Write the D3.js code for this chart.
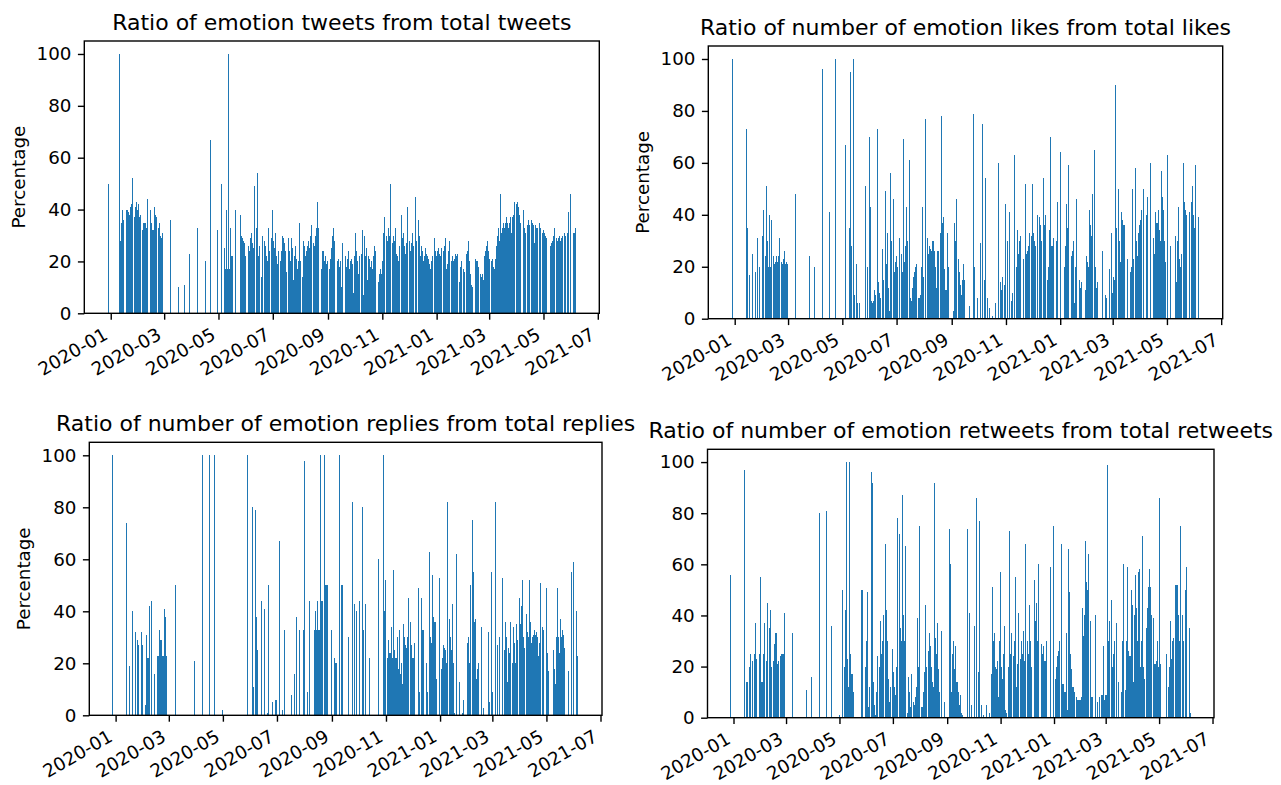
<!DOCTYPE html>
<html>
<head>
<meta charset="utf-8">
<script src="https://cdn.jsdelivr.net/npm/d3@7"></script>
<style>
  body { margin: 0; background: #fff; }
  svg { display: block; }
  text { font-family: "DejaVu Sans", sans-serif; fill: #000; }
</style>
</head>
<body>
<svg id="fig" width="1281" height="785"></svg>
<script>
// Daily series, one value per day from 2019-12-29 to 2021-06-06 (0 = no bar).
const firstDay = "2019-12-29";
const lastDay = "2021-06-06";

const tweetRatio = [
  50,0,0,0,0,0,0,0,0,0,
  0,0,0,100,28,35,40,36,34,35,
  40,40,40,39,38,41,42,40,52,38,
  37,41,43,40,42,37,38,37,36,32,
  35,35,35,33,44,36,32,38,40,35,
  32,32,41,38,37,35,30,33,35,30,
  29,31,0,0,0,0,0,0,0,0,
  36,0,0,0,0,0,0,0,0,10,
  0,0,0,0,0,0,11,0,0,0,
  0,0,23,0,0,0,0,0,0,0,
  0,33,0,0,0,0,0,0,0,20,
  0,0,0,0,0,67,0,0,0,0,
  0,0,0,32,0,0,0,50,0,0,
  0,25,17,40,17,100,17,17,33,22,
  22,0,0,40,0,0,0,0,0,38,
  30,29,28,27,22,34,34,13,26,24,
  29,31,27,25,21,49,30,33,54,22,
  26,0,14,25,30,28,28,26,22,20,
  33,24,13,29,27,40,28,25,31,22,
  19,24,20,18,20,24,30,29,27,24,
  16,18,22,29,24,20,29,25,13,22,
  19,26,21,17,20,35,20,0,14,13,
  28,26,22,24,26,28,25,30,34,19,
  23,27,26,30,33,43,33,33,9,0,
  17,24,24,20,22,19,20,18,0,17,
  21,25,30,33,28,24,23,22,20,21,
  18,20,10,27,10,19,19,22,18,21,
  24,17,20,21,16,19,8,22,31,24,
  20,15,22,19,21,23,32,7,30,22,
  25,13,19,22,21,18,20,17,22,26,
  24,21,19,7,12,15,17,15,20,31,
  29,37,34,30,28,33,30,50,0,27,
  25,30,28,33,23,22,20,26,30,38,
  35,29,31,26,23,27,41,29,25,28,
  24,27,31,26,0,45,28,25,30,36,
  30,22,26,24,20,22,24,25,23,22,
  21,19,17,20,22,23,25,29,24,22,
  24,25,23,22,25,23,22,24,26,29,
  17,19,24,28,22,21,20,22,20,21,
  23,22,23,20,0,12,18,20,0,17,
  16,15,23,22,24,28,20,15,11,10,
  12,17,19,21,20,20,18,0,15,14,
  13,15,13,22,24,26,28,24,21,22,
  22,20,21,18,17,21,26,30,33,0,
  28,46,31,33,35,33,35,37,33,35,
  33,35,37,31,37,38,41,43,42,42,
  43,41,38,35,0,36,40,36,33,31,
  0,34,36,34,33,35,36,35,34,27,
  34,33,33,34,35,34,33,0,31,32,
  31,30,29,0,0,0,0,26,27,28,
  30,33,31,30,29,28,29,30,28,29,
  30,29,30,31,30,0,31,39,0,46,
  38,0,30,31,31,33
];

const likeRatio = [
  0,100,0,0,0,0,0,0,0,0,
  0,0,0,0,0,0,73,35,0,0,
  17,0,0,25,0,0,18,0,0,31,
  0,20,0,0,32,42,24,24,24,51,
  30,20,40,20,38,37,25,24,21,22,
  24,22,24,31,23,22,22,21,23,26,
  21,22,21,0,0,0,0,0,0,0,
  0,48,0,0,0,0,0,0,0,0,
  0,0,0,0,0,0,0,24,0,0,
  0,0,0,20,0,0,0,0,0,0,
  0,0,96,0,0,0,0,0,0,0,
  41,0,0,0,0,0,100,0,0,0,
  0,0,0,0,0,0,0,0,67,0,
  0,0,35,95,28,0,0,100,9,0,
  21,6,0,6,6,0,0,0,0,0,
  51,0,20,67,70,60,43,7,6,7,
  11,9,70,73,20,14,10,8,0,27,
  15,20,49,25,21,33,12,3,56,30,
  30,46,35,18,22,24,20,0,31,9,
  9,25,18,69,22,28,43,30,22,0,
  61,8,7,12,16,18,20,21,14,6,
  8,8,9,20,43,16,30,77,12,0,
  31,25,28,27,26,30,29,30,26,20,
  12,26,26,0,33,78,33,37,39,19,
  11,11,33,20,12,0,0,0,0,3,
  37,30,46,20,10,23,18,13,9,15,
  21,15,14,0,0,0,0,5,0,0,
  0,79,0,20,0,0,8,0,0,29,
  0,0,75,0,15,54,0,8,0,0,
  4,0,0,1,0,0,6,0,0,36,
  60,0,14,11,16,0,13,0,44,38,
  30,0,41,0,7,10,0,0,63,0,
  20,34,25,30,32,25,17,20,23,0,
  52,25,26,28,33,25,21,32,52,33,
  30,28,0,40,38,30,39,36,30,0,
  54,36,40,30,29,15,20,34,70,28,
  28,31,25,19,0,30,45,0,0,64,
  14,0,0,0,20,28,44,35,59,22,
  20,18,24,26,30,6,20,46,33,28,
  0,15,12,14,0,0,0,11,0,24,
  22,20,42,36,32,48,50,50,65,20,
  12,14,0,0,0,0,0,26,0,0,
  9,8,0,0,19,17,20,33,10,16,
  15,90,35,28,24,50,30,22,41,38,
  36,36,30,26,22,23,0,0,18,20,
  50,23,22,20,58,30,24,33,36,38,
  42,35,33,50,0,0,40,47,0,0,
  0,60,0,0,31,25,41,37,37,42,
  38,34,30,57,47,42,30,22,0,0,
  63,0,0,28,0,0,0,0,0,32,
  14,30,43,23,20,25,28,31,60,45,
  42,40,0,0,41,35,0,45,51,40,
  35,59,0,0,39,7
];

const replyRatio = [
  100,0,0,0,0,0,0,0,0,0,
  0,0,0,0,0,74,57,0,0,19,
  0,0,40,0,0,32,0,29,29,27,
  0,0,32,27,25,22,22,4,31,22,
  22,42,0,0,44,0,0,16,0,0,
  23,23,33,23,29,29,23,23,41,38,
  23,23,0,0,0,0,0,0,0,0,
  50,0,0,0,0,0,0,0,0,0,
  0,0,0,0,0,0,0,0,0,0,
  0,0,21,0,0,0,0,0,0,0,
  0,100,0,0,0,0,0,0,0,100,
  0,0,0,0,0,100,0,0,0,0,
  0,0,0,0,2,0,0,0,0,0,
  0,0,0,0,0,0,0,0,0,0,
  0,0,0,0,0,0,0,0,0,0,
  0,0,100,0,0,0,0,80,0,11,
  0,79,38,25,0,0,0,0,44,0,
  0,41,0,0,1,0,50,25,0,0,
  5,0,0,6,0,6,0,0,67,0,
  0,2,0,0,33,0,0,0,0,0,
  0,8,0,0,0,16,0,38,0,0,
  33,0,0,0,0,33,98,0,0,9,
  0,0,44,0,0,0,0,33,33,40,
  33,44,33,33,100,44,44,50,50,100,
  50,50,50,0,0,0,0,33,0,0,
  22,20,20,0,0,100,50,0,50,50,
  0,0,0,0,0,0,30,0,0,0,
  82,0,43,0,0,40,0,0,44,0,
  0,80,0,33,0,43,0,0,0,22,
  0,0,0,0,0,0,0,0,38,60,
  0,0,0,0,0,100,40,43,52,30,
  22,29,24,24,34,22,28,56,25,22,
  22,30,18,33,16,20,14,12,35,30,
  27,26,30,45,0,28,36,27,22,22,
  28,0,28,28,0,49,9,0,45,33,
  33,21,18,14,20,9,0,63,30,28,
  30,54,38,36,36,14,0,0,53,30,
  20,18,22,27,26,25,20,82,28,15,
  37,30,25,43,20,1,19,30,62,0,
  0,13,0,0,1,0,6,0,0,0,
  28,30,20,50,38,45,75,55,36,37,
  14,18,20,6,0,0,34,0,3,0,
  0,0,0,0,32,5,0,55,9,0,
  11,82,57,0,27,0,30,0,0,53,
  38,20,25,36,30,13,26,24,19,36,
  30,20,34,28,20,35,29,28,30,45,
  35,42,52,30,26,0,28,39,32,30,
  52,36,28,30,31,30,33,31,32,30,
  23,28,51,45,33,34,33,0,0,49,
  24,17,0,0,0,0,0,25,18,12,
  30,35,49,30,24,37,30,33,31,26,
  24,0,0,0,17,0,0,55,0,0,
  59,0,0,40,23,0
];

const retweetRatio = [
  56,0,0,0,0,0,0,0,0,0,
  0,0,0,0,0,97,17,0,14,14,
  0,20,25,0,20,22,0,25,37,23,
  28,40,40,25,55,14,14,25,37,30,
  17,22,45,0,35,42,20,20,0,22,
  29,33,33,21,22,22,22,24,25,25,
  25,41,0,0,0,0,0,0,0,0,
  33,0,0,0,0,0,0,0,0,0,
  0,0,0,0,0,0,11,0,0,0,
  0,0,16,0,0,0,0,0,0,0,
  0,80,0,0,0,0,0,0,0,81,
  0,0,0,0,0,36,0,0,0,0,
  0,0,0,0,1,0,0,50,0,0,
  20,42,100,23,12,15,100,25,17,17,
  10,0,0,0,0,0,0,0,0,50,
  50,50,50,26,20,30,49,4,12,8,
  20,96,92,14,5,1,10,18,24,15,
  20,38,25,30,40,4,12,68,42,30,
  15,6,12,19,27,20,18,12,9,20,
  78,30,25,72,35,30,87,40,30,67,
  15,8,2,16,10,4,17,8,2,6,
  5,8,12,39,20,75,10,8,4,4,
  10,18,44,20,16,22,26,33,28,20,
  14,12,12,92,31,25,37,19,10,0,
  20,34,0,0,6,0,0,0,0,0,
  74,60,10,25,30,19,19,28,14,14,
  10,5,9,2,0,1,0,0,0,0,
  74,0,41,0,0,5,0,0,36,0,
  0,86,0,18,77,0,5,0,0,1,
  0,0,5,0,0,2,0,0,17,51,
  30,33,20,19,22,12,8,30,57,20,
  15,25,36,1,3,2,0,20,73,25,
  33,20,15,24,30,55,12,21,30,41,
  28,23,30,25,34,22,30,68,46,30,
  25,44,30,20,30,36,40,54,38,45,
  30,60,35,20,11,29,25,28,22,22,
  30,18,11,0,0,59,0,0,75,20,
  15,15,20,24,26,30,39,68,20,13,
  13,10,10,33,3,20,66,49,25,19,
  12,12,10,11,11,8,7,7,7,7,
  8,8,43,32,40,69,53,50,64,35,
  30,38,8,8,0,0,40,0,0,6,
  0,8,0,9,9,12,28,7,9,9,
  99,30,38,22,30,46,20,25,30,0,
  37,0,0,14,0,0,10,30,60,17,
  14,11,30,59,26,24,24,50,44,44,
  14,40,56,43,30,57,40,58,20,30,
  71,20,15,10,26,35,43,51,58,51,
  40,33,30,39,21,21,22,30,20,86,
  15,21,0,0,0,0,0,0,25,6,
  12,20,38,23,30,31,28,40,52,52,
  52,40,30,0,75,53,40,30,0,50,
  59,30,0,0,35,2
];

const yTickValues = [0, 20, 40, 60, 80, 100];
const xTickLabels = ["2020-01", "2020-03", "2020-05", "2020-07", "2020-09",
                     "2020-11", "2021-01", "2021-03", "2021-05", "2021-07"];
const yLabel = "Percentage";

const panels = [
  { title: "Ratio of emotion tweets from total tweets", values: tweetRatio,
    left: 84.3, right: 599.3, top: 41, bottom: 313.3, labelX: 25, labelClip: false },
  { title: "Ratio of number of emotion likes from total likes", values: likeRatio,
    left: 708.3, right: 1222.7, top: 46, bottom: 318.7, labelX: 649, labelClip: false },
  { title: "Ratio of number of emotion replies from total replies", values: replyRatio,
    left: 89.3, right: 602, top: 442.3, bottom: 715.3, labelX: 30, labelClip: false },
  { title: "Ratio of number of emotion retweets from total retweets", values: retweetRatio,
    left: 707.5, right: 1214, top: 449.3, bottom: 717.7, labelX: 648.2, labelClip: true }
];

const DAY = 864e5;
const parseDay = d3.utcParse("%Y-%m-%d");
const parseMonth = d3.utcParse("%Y-%m");
const days = d3.utcDay.range(parseDay(firstDay), d3.utcDay.offset(parseDay(lastDay), 1));
const tickDates = xTickLabels.map(parseMonth);

const BAR_COLOR = "#1f77b4";
const TICK_FONT = 18.3, TITLE_FONT = 22;
const TICK_LEN = 6.4, TICK_PAD = 6.4, LINE_W = 1.4;

const svg = d3.select("#fig");
const defs = svg.append("defs");

panels.forEach((p, pi) => {
  // bar edges span 0.8 day around each date, axes add 5% margin on both sides
  const lo = +days[0] - 0.4 * DAY, hi = +days[days.length - 1] + 0.4 * DAY;
  const margin = (hi - lo) * 0.05;
  const x = d3.scaleUtc().domain([lo - margin, hi + margin]).range([p.left, p.right]);
  const y = d3.scaleLinear().domain([0, 105]).range([p.bottom, p.top]);

  const g = svg.append("g");

  // bars are snapped to whole pixels; a bar too narrow to cover a pixel is
  // dropped unless it rises above both neighbours, then it keeps one pixel
  const vals = p.values;
  const rows = vals.map((v, i) => {
    const t = +days[i];
    let x0 = Math.round(x(t - 0.4 * DAY));
    let x1 = Math.round(x(t + 0.4 * DAY));
    const prev = vals[i - 1] || 0, next = vals[i + 1] || 0;
    if (x1 <= x0 && v > prev && v > next) {
      x0 = Math.round(x(t) - 0.5);
      x1 = x0 + 1;
    }
    return { v, x0, x1 };
  }).filter(d => d.v > 0 && d.x1 > d.x0);

  const y0 = Math.round(y(0));
  g.append("g").attr("shape-rendering", "crispEdges")
    .selectAll("rect").data(rows).join("rect")
    .attr("x", d => d.x0)
    .attr("width", d => d.x1 - d.x0)
    .attr("y", d => Math.round(y(d.v)))
    .attr("height", d => y0 - Math.round(y(d.v)))
    .attr("fill", BAR_COLOR);

  // x axis with rotated month labels
  const xAxis = d3.axisBottom(x).tickValues(tickDates)
    .tickFormat(d3.utcFormat("%Y-%m")).tickSize(TICK_LEN).tickSizeOuter(0);
  const gx = g.append("g").attr("transform", `translate(0,${p.bottom})`).call(xAxis);
  gx.select(".domain").remove();
  gx.selectAll(".tick line").attr("stroke", "#000").attr("stroke-width", LINE_W);
  gx.selectAll(".tick text")
    .attr("x", null).attr("y", null).attr("dy", null)
    .attr("text-anchor", "end")
    .attr("transform", `translate(-2.2,${TICK_LEN + TICK_PAD + 12})rotate(-30)`)
    .style("font-size", TICK_FONT + "px")
    .style("font-family", '"DejaVu Sans", sans-serif')
    .attr("fill", "#000");

  // y axis
  const yAxis = d3.axisLeft(y).tickValues(yTickValues).tickSize(TICK_LEN)
    .tickPadding(TICK_PAD).tickSizeOuter(0);
  const gy = g.append("g").attr("transform", `translate(${p.left},0)`).call(yAxis);
  gy.select(".domain").remove();
  gy.selectAll(".tick line").attr("stroke", "#000").attr("stroke-width", LINE_W);
  gy.selectAll(".tick text")
    .style("font-size", TICK_FONT + "px")
    .style("font-family", '"DejaVu Sans", sans-serif')
    .attr("fill", "#000");

  // frame
  g.append("rect")
    .attr("x", p.left).attr("y", p.top)
    .attr("width", p.right - p.left).attr("height", p.bottom - p.top)
    .attr("fill", "none").attr("stroke", "#000").attr("stroke-width", LINE_W);

  // title
  g.append("text")
    .attr("x", (p.left + p.right) / 2).attr("y", p.top - 11)
    .attr("text-anchor", "middle")
    .style("font-size", TITLE_FONT + "px")
    .text(p.title);

  // y label
  const cy = (p.top + p.bottom) / 2;
  const lab = g.append("text")
    .attr("transform", `translate(${p.labelX},${cy})rotate(-90)`)
    .attr("text-anchor", "middle")
    .style("font-size", TICK_FONT + "px")
    .text(yLabel);
  if (p.labelClip) {
    // only the part right of the baseline stays visible here
    const id = "labclip" + pi;
    defs.append("clipPath").attr("id", id).append("rect")
      .attr("x", p.labelX + 0.4).attr("y", p.top).attr("width", 20).attr("height", p.bottom - p.top);
    lab.attr("clip-path", `url(#${id})`);
  }
});
</script>
</body>
</html>
